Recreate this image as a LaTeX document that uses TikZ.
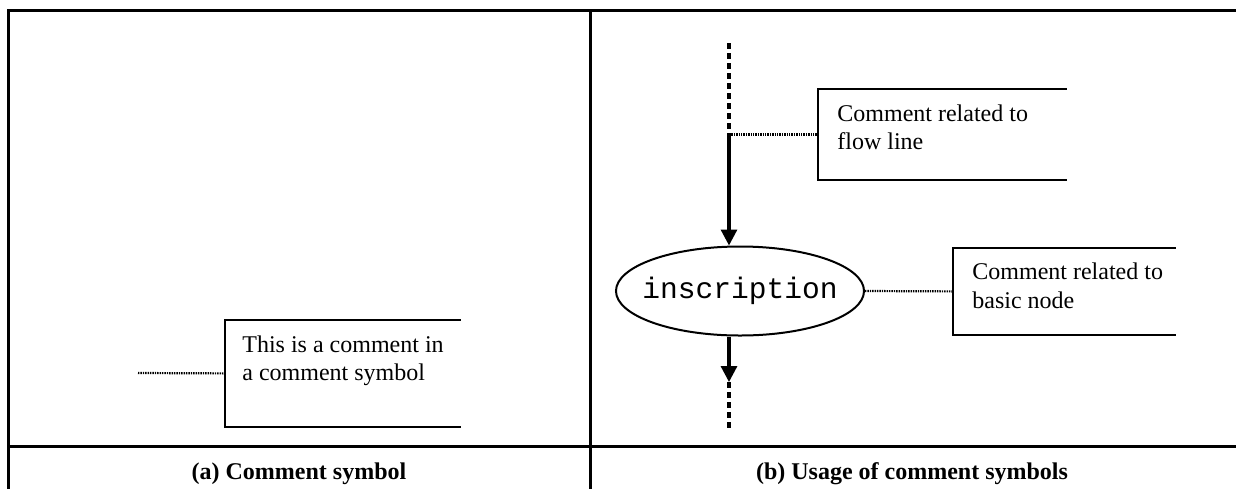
\documentclass[tikz,border=0pt]{standalone}
\usepackage{fontspec}
\setmainfont{Liberation Serif}
\setmonofont{Liberation Mono}
\usepackage{tikz}
\usetikzlibrary{arrows.meta,shapes.geometric,calc}
\tikzset{
  frameline/.style={line width=1.5pt},
  bracket/.style={line width=1pt},
  dotline/.style={line width=1.1pt, dash pattern=on 0.7pt off 0.5pt},
  flowline/.style={line width=1.6pt},
  flowdash/.style={line width=1.8pt, dash pattern=on 3pt off 2pt},
  flowtip/.style={-{Triangle[length=8pt,width=8pt]}},
  commentbox/.style={inner sep=0pt, anchor=north west},
  notetext/.style={inner sep=0pt, anchor=north west, align=left, font=\fontsize{12pt}{14.4pt}\selectfont},
  caption/.style={font=\fontsize{12pt}{14.4pt}\selectfont\bfseries},
  basicnode/.style={ellipse, draw, line width=1pt, inner xsep=-5pt, inner ysep=0pt, minimum width=124pt, minimum height=44.5pt, font=\fontsize{14.8pt}{16pt}\selectfont\ttfamily}
}

\begin{document}
\begin{tikzpicture}[x=0.5pt, y=-0.5pt]
		\useasboundingbox (0,0) rectangle (1236,488);
		%%%%% START %%%%%
		
		% table
		\draw[frameline] (1240,10) -- (8,10) -- (8,492);
		\draw[frameline] (590,10) -- (590,492);
		\draw[frameline] (8,446) -- (1240,446);
		
		\node[caption] (capa) at (299,474) {(a) Comment symbol};
		\node[caption] (capb) at (912,474) {(b) Usage of comment symbols};
		
		% (a) comment symbol
		\node[commentbox, minimum width=117.5pt, minimum height=53pt] (sym) at (225,320) {};
		\draw[bracket] (sym.north east) -- (sym.north west) -- (sym.south west) -- (sym.south east);
		\node[notetext] (symtext) at ($(sym.north west)+(17,15)$) {This is a comment in\\a comment symbol};
		\coordinate (symend) at (138,373);
		\draw[dotline] (symend) -- (sym.west);
		
		% (b) flow line and basic node
		\node[basicnode] (insc) at (740,291) {inscription};
		
		\node[commentbox, minimum width=124pt, minimum height=45pt] (flowcmt) at (818,89) {};
		\draw[bracket] (flowcmt.north east) -- (flowcmt.north west) -- (flowcmt.south west) -- (flowcmt.south east);
		\node[notetext] (flowtext) at ($(flowcmt.north west)+(19,15)$) {Comment related to\\flow line};
		
		\node[commentbox, minimum width=111pt, minimum height=43.5pt] (nodecmt) at (953,247.5) {};
		\draw[bracket] (nodecmt.north east) -- (nodecmt.north west) -- (nodecmt.south west) -- (nodecmt.south east);
		\node[notetext] (nodetext) at ($(nodecmt.north west)+(19,15)$) {Comment related to\\basic node};
		
		\coordinate (flowtop) at (729,43);
		\coordinate (flowsplit) at (flowtop |- flowcmt.west);
		\coordinate (flowhead) at (729,382);
		\coordinate (flowend) at (729,428);
		
		\draw[flowdash] (flowtop) -- (flowsplit);
		\draw[flowline, flowtip] (flowsplit) -- (flowsplit |- insc.north);
		\draw[flowline, flowtip] (flowsplit |- insc.south) -- (flowhead);
		\draw[flowdash] (flowhead) -- (flowend);
		
		\draw[dotline] (flowsplit) -- (flowcmt.west);
		\draw[dotline] (insc.east) -- (nodecmt.west);
		
		%%%%% END %%%%%
\end{tikzpicture}
\end{document}
